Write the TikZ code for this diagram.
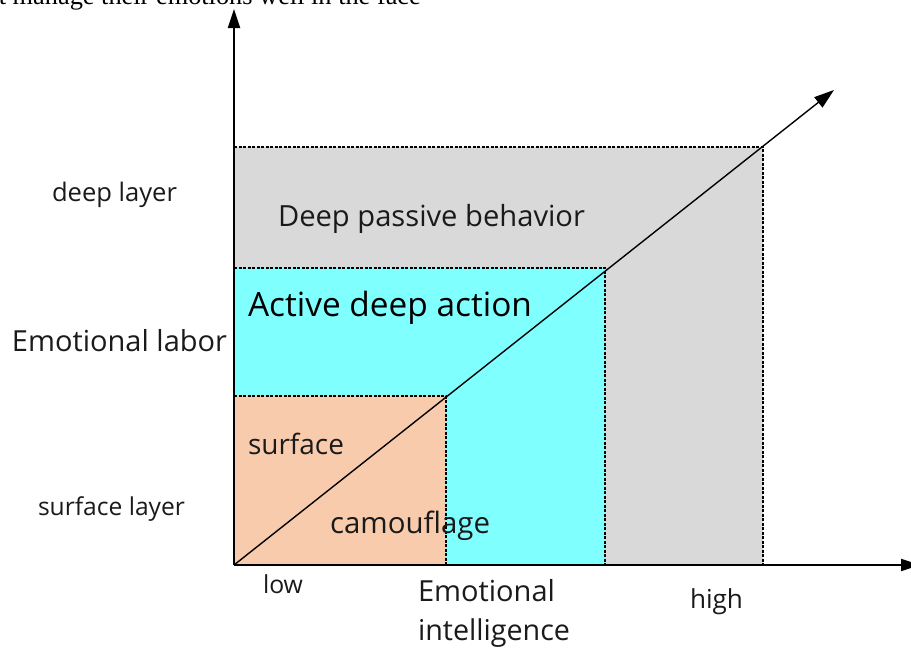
\documentclass[tikz,border=0pt]{standalone}
\usepackage{fontspec}
\setmainfont{Open Sans}
\newfontfamily\serifx{Liberation Serif}
\usetikzlibrary{arrows.meta}
\definecolor{grayfill}{HTML}{D9D9D9}
\definecolor{cyanfill}{HTML}{80FFFF}
\definecolor{orangefill}{HTML}{F8CBAD}
\definecolor{txt}{HTML}{1A1A1A}
\newcommand{\fitw}[2]{\resizebox{#1pt}{!}{#2}}
\tikzset{
  lbl/.style={inner sep=0pt, outer sep=0pt, anchor=base west, text=txt},
  dashedge/.style={draw=black, line width=1.1pt, dash pattern=on 3pt off 1.5pt},
  axisline/.style={draw=black, line width=1.8pt, -{Triangle[length=19pt,width=12pt]}},
  diagline/.style={draw=black, line width=1.4pt, -{Triangle[length=20pt,width=13pt]}}
}
\begin{document}
\begin{tikzpicture}[x=1pt,y=-1pt]
\useasboundingbox (0,0) rectangle (911,651);
% regions
\fill[grayfill] (234,147) rectangle (763,565);
\fill[cyanfill] (234,268) rectangle (605,565);
\fill[orangefill] (234,396) rectangle (446,565);
% region corners
\coordinate (O) at (234,565);
\coordinate (g1) at (234,147);
\coordinate (g2) at (763,147);
\coordinate (g3) at (763,565);
\coordinate (c1) at (234,268);
\coordinate (c2) at (605,268);
\coordinate (c3) at (605,565);
\coordinate (o1) at (234,396);
\coordinate (o2) at (446,396);
\coordinate (o3) at (446,565);
\draw[dashedge] (g1) -- (g2) -- (g3);
\draw[dashedge] (c1) -- (c2) -- (c3);
\draw[dashedge] (o1) -- (o2) -- (o3);
% diagonal
\coordinate (dtip) at (834,90);
\draw[diagline] (O) -- (dtip);
% axes
\coordinate (ytip) at (234,9);
\coordinate (xtip) at (920,565);
\draw[axisline] (O) -- (ytip);
\draw[axisline] (O) -- (xtip);
% texts
\node[inner sep=0pt, anchor=base east, text=black] (top) at (421,4) {\fitw{422}{\serifx t manage their emotions well in the face}};
\node[lbl] (deep) at (52,201) {\fitw{125}{deep layer}};
\node[lbl] (emolab) at (12,351) {\fitw{215}{Emotional labor}};
\node[lbl] (surfl) at (38,515) {\fitw{147}{surface layer}};
\node[lbl] (dpb) at (278,226) {\fitw{307}{Deep passive behavior}};
\node[lbl, text=black] (ada) at (248,316) {\fitw{284}{Active deep action}};
\node[lbl] (surf) at (248,454) {\fitw{96}{surface}};
\node[lbl] (camo) at (330,533) {\fitw{160}{camouflage}};
\node[lbl] (low) at (263,593) {\fitw{40}{low}};
\node[lbl] (emo) at (418,601) {\fitw{137}{Emotional}};
\node[lbl] (intel) at (418,640) {\fitw{152}{intelligence}};
\node[lbl] (high) at (690,608) {\fitw{53}{high}};
\end{tikzpicture}
\end{document}
